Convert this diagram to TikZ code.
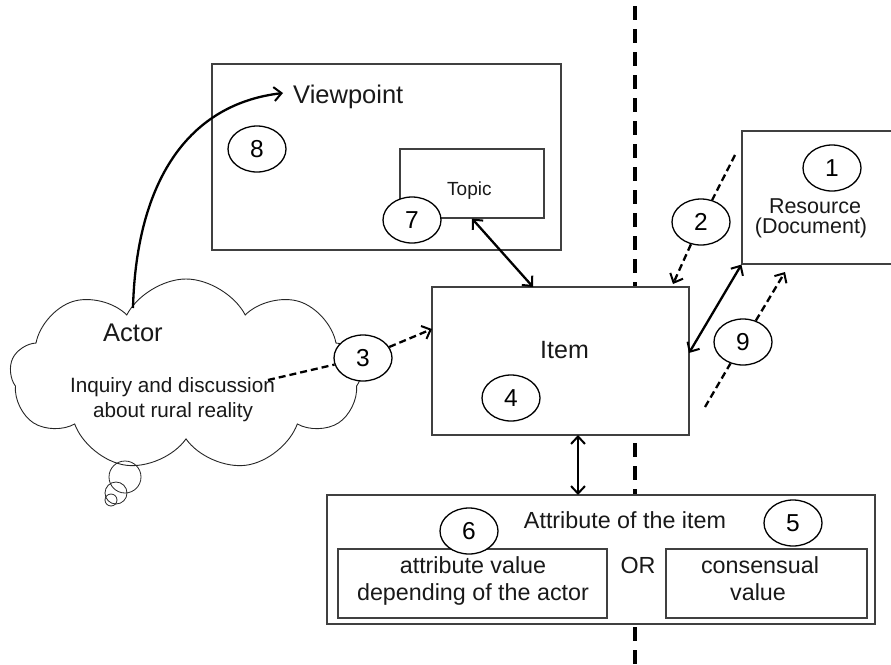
\documentclass[tikz,border=0pt]{standalone}
\usepackage{fontspec}
\setmainfont{Liberation Sans}
\usetikzlibrary{arrows.meta,shapes.geometric,shapes.symbols}
\begin{document}
\begin{tikzpicture}[x=1pt,y=-1pt,
  box/.style={rectangle,draw=black!75,line width=1.1pt,fill=white,inner sep=0pt},
  num/.style={ellipse,draw=black,line width=1.3pt,fill=white,minimum width=58pt,minimum height=46pt,inner sep=0pt,font=\fontsize{24.5}{27}\selectfont},
  lbl/.style={inner sep=0pt,text=black!90},
  barb/.tip={Straight Barb[length=7.5pt,width=14pt,line width=2pt]},
  arr/.style={line width=2.3pt,-barb},
  darr/.style={line width=2.3pt,barb-barb},
  dash arr/.style={line width=2.3pt,dash pattern=on 7pt off 4pt,-barb},
  dash seg/.style={line width=2.3pt,dash pattern=on 7pt off 4pt},
  sep/.style={line width=3.5pt,dash pattern=on 13.5pt off 9.5pt}
]
\useasboundingbox (0,0) rectangle (891,664);
% separator
\coordinate (septop) at (635,6);
\coordinate (sepbot) at (635,664);
\draw[sep] (septop) -- (sepbot);

% cloud with thought bubbles
\node[cloud,draw=black!85,line width=0.9pt,fill=white,cloud puffs=9,cloud puff arc=125,cloud ignores aspect,minimum width=352pt,minimum height=192pt] (cloud) at (186,375) {};
\node[circle,draw=black!85,line width=0.8pt,minimum size=32pt,inner sep=0pt] (b1) at (125,477) {};
\node[circle,draw=black!85,line width=0.8pt,minimum size=22pt,inner sep=0pt] (b2) at (116,493) {};
\node[circle,draw=black!85,line width=0.8pt,minimum size=12pt,inner sep=0pt] (b3) at (111,500) {};

% boxes
\node[box,minimum width=349pt,minimum height=186pt] (vp) at (386.5,157) {};
\node[box,minimum width=144pt,minimum height=69pt] (topic) at (472,183.5) {};
\node[box,minimum width=257pt,minimum height=148pt] (item) at (560.5,361) {};
\node[box,minimum width=160pt,minimum height=133pt] (res) at (822,197.5) {};
\node[box,minimum width=548pt,minimum height=129pt] (attr) at (601,559.5) {};
\node[box,minimum width=269pt,minimum height=69pt] (avl) at (472.5,583.5) {};
\node[box,minimum width=201pt,minimum height=69pt] (cons) at (766.5,583.5) {};

% numbered ellipses
\node[num] (n1) at (832,168) {1};
\node[num] (n2) at (701,222) {2};
\node[num] (n3) at (363,358) {3};
\node[num] (n4) at (511,398) {4};
\node[num] (n5) at (793,523) {5};
\node[num] (n6) at (469,531) {6};
\node[num] (n8) at (257,149) {8};
\node[num] (n9) at (743,342) {9};

% texts
\node[lbl,anchor=base west,font=\fontsize{25.5}{28}\selectfont] (vpt) at (293,103) {Viewpoint};
\node[lbl,anchor=base west,font=\fontsize{19}{22}\selectfont] (topict) at (447,195) {Topic};
\node[lbl,anchor=base west,font=\fontsize{25}{28}\selectfont] (itemt) at (540,358) {Item};
\node[lbl,anchor=base west,font=\fontsize{25.5}{28}\selectfont] (actort) at (103,341) {Actor};
\node[lbl,anchor=base,font=\fontsize{20.7}{24}\selectfont] (inq1) at (172.5,392) {Inquiry and discussion};
\node[lbl,anchor=base,font=\fontsize{20.7}{24}\selectfont] (inq2) at (173,417) {about rural reality};
\node[lbl,anchor=base,font=\fontsize{21.5}{24}\selectfont] (rest1) at (815,213.5) {Resource};
\node[lbl,anchor=base,font=\fontsize{21.5}{24}\selectfont] (rest2) at (811,233.5) {(Document)};
\node[lbl,anchor=base,font=\fontsize{23.3}{26}\selectfont] (attrt) at (625,528) {Attribute of the item};
\node[lbl,anchor=base,font=\fontsize{23.3}{26}\selectfont] (avl1) at (473,573.5) {attribute value};
\node[lbl,anchor=base,font=\fontsize{23.3}{26}\selectfont] (avl2) at (473,600) {depending of the actor};
\node[lbl,anchor=base,font=\fontsize{23.3}{26}\selectfont] (cons1) at (760,573.5) {consensual};
\node[lbl,anchor=base,font=\fontsize{23.3}{26}\selectfont] (cons2) at (758,600) {value};
\node[lbl,anchor=base,font=\fontsize{23.3}{26}\selectfont] (ort) at (638,573.5) {OR};

% connector end points
\coordinate (actstart) at (133,308);
\coordinate (vptip) at (283,93);
\coordinate (p3) at (268,380);
\coordinate (i3) at (432,329);
\coordinate (itop) at (533,287);
\coordinate (p2) at (735,155);
\coordinate (i2) at (673,284);
\coordinate (ir) at (689,353);
\coordinate (p9) at (705,407);
\coordinate (r9) at (785,272);
\coordinate (ib) at (578,435);
\coordinate (at) at (578,495);

% connectors
\draw[arr] (actstart) .. controls (136,190) and (182,105) .. (vptip);
\draw[dash seg] (p3) -- (n3);
\draw[dash arr] (n3) -- (i3);
\draw[darr] (topic.south) -- (itop);
\draw[dash seg] (p2) -- (n2);
\draw[dash arr] (n2) -- (i2);
\draw[darr] (ir) -- (res.south west);
\draw[dash seg] (p9) -- (n9);
\draw[dash arr] (n9) -- (r9);
\draw[darr] (ib) -- (at);

% ellipse 7 on top of the topic box and connector
\node[num] (n7) at (412,220) {7};
\end{tikzpicture}
\end{document}
